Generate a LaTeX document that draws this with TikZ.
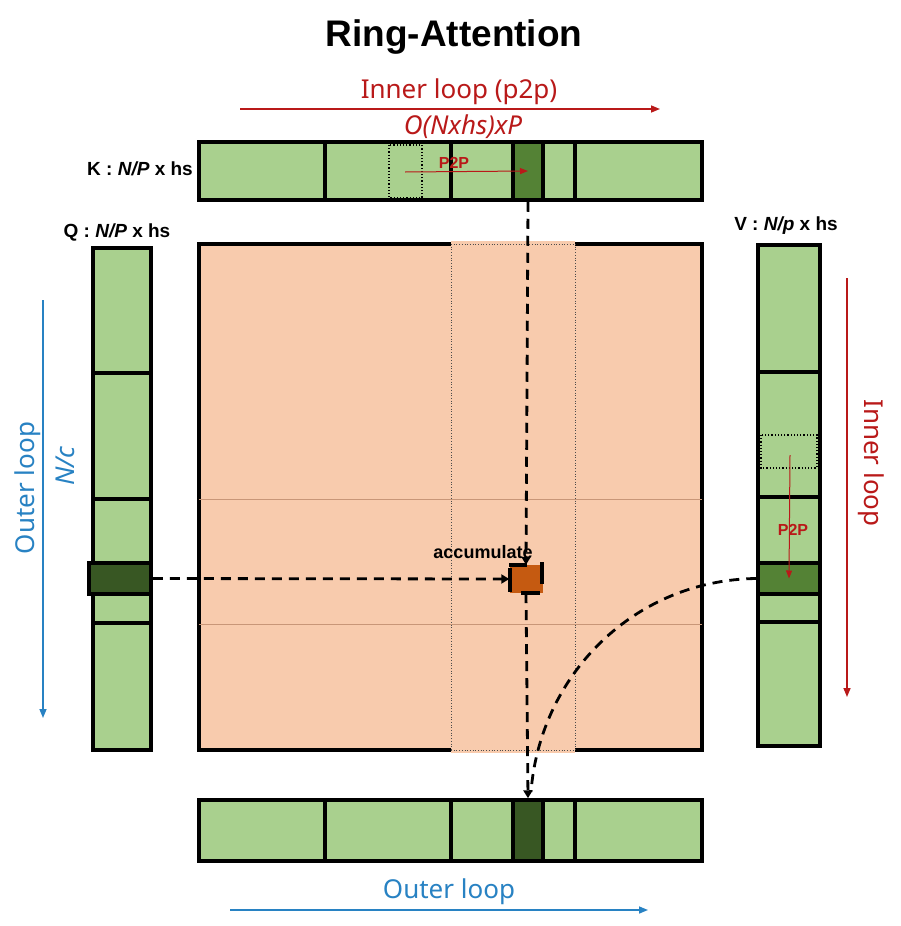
\documentclass[tikz,border=0pt]{standalone}
\usepackage{fontspec}
\setmainfont{Noto Sans}[BoldFont={Liberation Sans Bold}, BoldItalicFont={Liberation Sans Bold Italic}]
\usetikzlibrary{arrows.meta}
\definecolor{lgreen}{RGB}{169,208,142}
\definecolor{mgreen}{RGB}{84,130,53}
\definecolor{dgreen}{RGB}{56,87,35}
\definecolor{peach}{RGB}{248,203,173}
\definecolor{accorange}{RGB}{197,90,17}
\definecolor{loopred}{RGB}{185,25,25}
\definecolor{loopblue}{RGB}{40,130,195}
\definecolor{gridline}{RGB}{200,150,120}
\tikzset{
  bar/.style={draw=black, line width=3.5pt, fill=lgreen},
  divider/.style={line width=3.5pt},
  blk/.style={draw=black, line width=3.5pt, inner sep=0pt, minimum width=#1},
  dots/.style={draw=black, line width=1.2pt, dotted},
  flow/.style={line width=2.8pt, dash pattern=on 10pt off 7pt, -{Triangle[length=8pt,width=9pt]}},
  redarrow/.style={draw=loopred, line width=1.5pt, -{Triangle[length=9pt,width=7pt]}},
  bluearrow/.style={draw=loopblue, line width=1.5pt, -{Triangle[length=9pt,width=7pt]}},
  p2parrow/.style={draw=loopred, line width=1pt, -{Triangle[length=8pt,width=6pt]}},
  looptext/.style={font=\fontsize{26}{30}\selectfont, inner sep=0pt},
  labeltext/.style={font=\fontsize{19}{22}\selectfont\bfseries, inner sep=0pt},
  p2ptext/.style={font=\fontsize{16}{20}\selectfont\bfseries, text=loopred, inner sep=0pt},
}
\begin{document}
\begin{tikzpicture}[x=1pt,y=-1pt]
\useasboundingbox (0,0) rectangle (900,926);
\fill[white] (0,0) rectangle (900,926);

% title
\node[font=\fontsize{37}{40}\selectfont\bfseries, inner sep=0pt] (title) at (454,37) {Ring-Attention};

% inner loop top
\node[looptext, text=loopred] (innertop) at (459,92) {Inner loop (p2p)};
\coordinate (it1) at (240,109);
\coordinate (it2) at (660,109);
\draw[redarrow] (it1) -- (it2);
\node[looptext, text=loopred, font=\fontsize{26}{30}\selectfont\itshape] (cost) at (463,127) {O(Nxhs)xP};

% main square
\draw[line width=3.5pt, fill=peach] (199,244) rectangle (702,750);
\fill[peach] (451,241) rectangle (575,753);
\draw[black!70, line width=0.7pt, dotted] (451,244) -- (451,750);
\draw[black!70, line width=0.7pt, dotted] (575,244) -- (575,750);
\draw[black!70, line width=0.7pt, dotted] (451,244) -- (575,244);
\draw[black!70, line width=0.7pt, dotted] (451,750) -- (575,750);
\draw[gridline, line width=0.8pt] (199,499) -- (702,499);
\draw[gridline, line width=0.8pt] (199,624) -- (702,624);

% K bar
\node[labeltext] (klabel) at (140,169) {K : \textit{N/P} x hs};
\draw[bar] (199,142) rectangle (702,200);
\foreach \x in {325,451,575} \draw[divider] (\x,142) -- (\x,200);
\node[blk=30pt, minimum height=58pt, fill=mgreen] (kd) at (528,171) {};
\draw[dots] (389,145) rectangle (422,198);
\coordinate (kp1) at (405,172);
\draw[p2parrow] (kp1) -- (kd.center);
\node[p2ptext] (kp2p) at (454,163) {P2P};

% Q bar
\node[labeltext] (qlabel) at (117,232) {Q : \textit{N/P} x hs};
\draw[bar] (93,248) rectangle (151,750);
\foreach \y in {373,499,623} \draw[divider] (93,\y) -- (151,\y);
\node[blk=62pt, minimum height=31pt, fill=dgreen] (qd) at (120,578.5) {};

% V bar
\node[labeltext] (vlabel) at (786,226) {V : \textit{N/p} x hs};
\draw[bar] (758,245) rectangle (820,746);
\foreach \y in {372,497,622} \draw[divider] (758,\y) -- (820,\y);
\node[blk=62pt, minimum height=31pt, fill=mgreen] (vd) at (789,578.5) {};
\draw[dots] (761,435) rectangle (817,468);
\coordinate (vp1) at (790,455);
\draw[p2parrow] (vp1) -- (vd.center);
\node[p2ptext] (vp2p) at (793,530) {P2P};

% bottom bar
\draw[bar] (199,800) rectangle (702,861);
\foreach \x in {325,451,575} \draw[divider] (\x,800) -- (\x,861);
\node[blk=30pt, minimum height=61pt, fill=dgreen] (bd) at (528,830.5) {};

% accumulate block
\node[fill=accorange, minimum width=33pt, minimum height=28pt, inner sep=0pt] (acc) at (526,579) {};
\draw[line width=3.5pt] (509,565) -- (527,565);
\draw[line width=3.5pt] (510,568) -- (510,592);
\draw[line width=3.5pt] (542,562) -- (542,584);
\draw[line width=3.5pt] (521,593) -- (540,593);
\node[font=\fontsize{18}{20}\selectfont\bfseries, inner sep=0pt] (acclabel) at (483,552) {accumulate};

% dataflow
\draw[flow] (qd.east) -- (acc.west);
\draw[flow] (kd.south) -- (acc.north);
\draw[flow] (acc.south) -- (bd.north);
\coordinate (merge) at (531,792);
\draw[line width=2.8pt, dash pattern=on 10pt off 7pt] (vd.west) .. controls (634,580) and (540,675) .. (merge);

% outer loop bottom
\node[looptext, text=loopblue] (outerbot) at (449,892) {Outer loop};
\coordinate (ob1) at (230,910);
\coordinate (ob2) at (648,910);
\draw[bluearrow] (ob1) -- (ob2);

% outer loop left
\node[looptext, text=loopblue, rotate=90] (outerleft) at (28,488) {Outer loop};
\node[looptext, text=loopblue, rotate=90, font=\fontsize{26}{30}\selectfont\itshape] (nc) at (65,466) {N/c};
\coordinate (ol1) at (43,300);
\coordinate (ol2) at (43,718);
\draw[bluearrow] (ol1) -- (ol2);

% inner loop right
\node[looptext, text=loopred, rotate=-90] (innerright) at (871,463) {Inner loop};
\coordinate (ir1) at (847,278);
\coordinate (ir2) at (847,697);
\draw[redarrow] (ir1) -- (ir2);
\end{tikzpicture}
\end{document}
